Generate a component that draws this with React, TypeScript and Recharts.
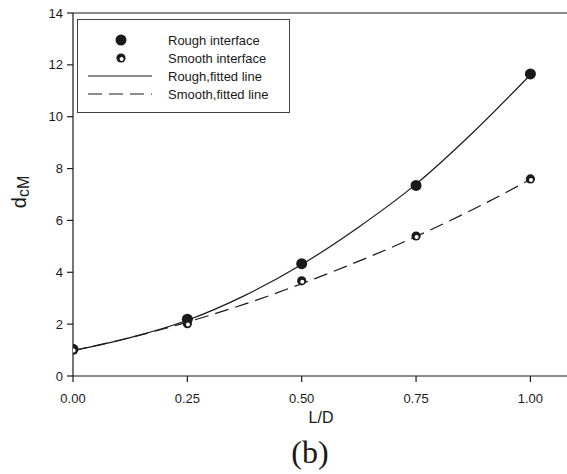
import { ComposedChart, Line, Scatter, XAxis, YAxis, ReferenceLine } from 'recharts'

// measured points
const LD = [0, 0.25, 0.5, 0.75, 1.0]
const roughValues = [1.03, 2.19, 4.33, 7.35, 11.65]
const smoothValues = [1.02, 2.02, 3.67, 5.4, 7.6]

// fitted curves
const fitLD = [0, 0.125, 0.25, 0.375, 0.5, 0.625, 0.75, 0.875, 1.0]
const roughFit = [0.98, 1.48, 2.15, 3.1, 4.3, 5.75, 7.4, 9.4, 11.62]
const smoothFit = [0.98, 1.48, 2.08, 2.77, 3.56, 4.43, 5.38, 6.43, 7.58]

const xTicks = [0, 0.25, 0.5, 0.75, 1.0]
const yTicks = [0, 2, 4, 6, 8, 10, 12, 14]

const roughPts = LD.map((x, i) => ({ x, y: roughValues[i] }))
const smoothPts = LD.map((x, i) => ({ x, y: smoothValues[i] }))
const roughLine = fitLD.map((x, i) => ({ x, y: roughFit[i] }))
const smoothLine = fitLD.map((x, i) => ({ x, y: smoothFit[i] }))

const FONT = '"Liberation Sans", Arial, Helvetica, sans-serif'
const INK = '#1a1a1a'

const RoughDot = (props: any) => {
  const { cx, cy } = props
  return <circle cx={cx} cy={cy} r={5.5} fill={INK} />
}

const SmoothDot = (props: any) => {
  const { cx, cy } = props
  return (
    <g>
      <circle cx={cx} cy={cy} r={4.6} fill={INK} />
      <circle cx={cx + 0.6} cy={cy + 1} r={2} fill="#fff" />
    </g>
  )
}

const legendRows = [
  { label: 'Rough interface', kind: 'rough' },
  { label: 'Smooth interface', kind: 'smooth' },
  { label: 'Rough,fitted line', kind: 'solid' },
  { label: 'Smooth,fitted line', kind: 'dashed' },
]

// legend box drawn over the plot, like the original figure
const LegendBox = () => (
  <div
    style={{
      position: 'absolute',
      left: 77,
      top: 19,
      width: 213,
      height: 94,
      border: '1px solid #444',
      background: '#fff',
      fontFamily: FONT,
      fontSize: 13,
      color: INK,
      boxSizing: 'border-box',
      paddingTop: 11,
    }}
  >
    {legendRows.map((r) => (
      <div key={r.label} style={{ display: 'flex', alignItems: 'center', height: 18 }}>
        <svg width={90} height={18} style={{ display: 'block' }}>
          {r.kind === 'rough' && <RoughDot cx={43} cy={9} />}
          {r.kind === 'smooth' && <SmoothDot cx={43} cy={9} />}
          {r.kind === 'solid' && <line x1={10} x2={74} y1={9} y2={9} stroke={INK} strokeWidth={1} />}
          {r.kind === 'dashed' && (
            <line x1={10} x2={74} y1={9} y2={9} stroke={INK} strokeWidth={1} strokeDasharray="14 7" />
          )}
        </svg>
        <span>{r.label}</span>
      </div>
    ))}
  </div>
)

export default function App() {
  return (
    <div style={{ position: 'absolute', left: 0, top: 0, width: 567, height: 474, background: '#fff' }}>
      <ComposedChart width={567} height={474} margin={{ top: 13, right: 0, bottom: 0, left: 0 }}>
        <XAxis
          type="number"
          dataKey="x"
          domain={[0, 1.08]}
          ticks={xTicks}
          tickFormatter={(v: number) => v.toFixed(2)}
          height={98}
          tickSize={6}
          tickMargin={12}
          stroke={INK}
          strokeWidth={1.2}
          tick={{ fontSize: 13, fill: INK, fontFamily: FONT }}
          allowDataOverflow
        />
        <YAxis
          type="number"
          dataKey="y"
          domain={[0, 14]}
          ticks={yTicks}
          width={73}
          tickSize={6}
          tickMargin={4}
          stroke={INK}
          strokeWidth={1.2}
          tick={{ fontSize: 13, fill: INK, fontFamily: FONT }}
        />
        <ReferenceLine y={14} stroke={INK} strokeWidth={1.2} />
        <Line
          data={roughLine}
          dataKey="y"
          type="monotone"
          stroke={INK}
          strokeWidth={1.2}
          dot={false}
          isAnimationActive={false}
        />
        <Line
          data={smoothLine}
          dataKey="y"
          type="monotone"
          stroke={INK}
          strokeWidth={1.2}
          strokeDasharray="14 7"
          dot={false}
          isAnimationActive={false}
        />
        <Scatter data={roughPts} dataKey="y" shape={RoughDot} isAnimationActive={false} />
        <Scatter data={smoothPts} dataKey="y" shape={SmoothDot} isAnimationActive={false} />
      </ComposedChart>
      <LegendBox />
      <div
        style={{
          position: 'absolute',
          left: 321,
          top: 418,
          transform: 'translate(-50%, -50%)',
          fontFamily: FONT,
          fontSize: 16,
          color: INK,
          whiteSpace: 'nowrap',
        }}
      >
        L/D
      </div>
      <div
        style={{
          position: 'absolute',
          left: 310,
          top: 452,
          transform: 'translate(-50%, -50%)',
          fontFamily: '"Liberation Serif", "Times New Roman", serif',
          fontSize: 32,
          color: INK,
          whiteSpace: 'nowrap',
        }}
      >
        (b)
      </div>
      <div
        style={{
          position: 'absolute',
          left: 19,
          top: 192,
          transform: 'translate(-50%, -50%) rotate(-90deg)',
          fontFamily: FONT,
          fontSize: 20,
          color: INK,
          whiteSpace: 'nowrap',
          lineHeight: 1,
        }}
      >
        d<span style={{ fontSize: 16, position: 'relative', top: 3 }}>cM</span>
      </div>
    </div>
  )
}
